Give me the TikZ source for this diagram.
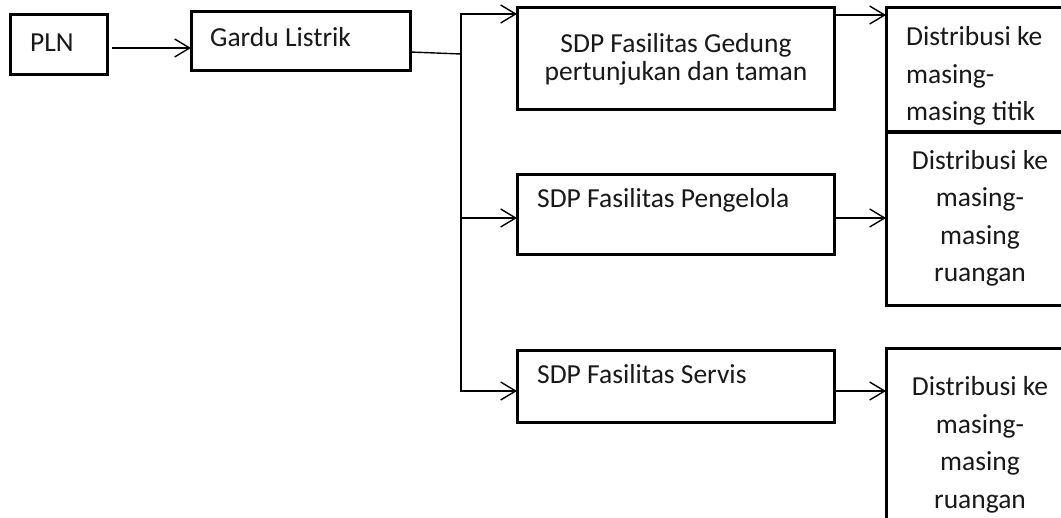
\documentclass[tikz,border=0pt]{standalone}
\usepackage{fontspec}
\setmainfont{Carlito}
\usetikzlibrary{arrows.meta}
\begin{document}
\begin{tikzpicture}[x=1pt,y=-1pt,
  box/.style={draw=black, line width=3pt, rectangle, inner sep=0pt, outer sep=0pt},
  conn/.style={draw=black, line width=1.4pt},
  arr/.style={conn, -{Straight Barb[length=15pt,width=18pt]}},
  txt/.style={font=\fontsize{27.5}{28}\selectfont, inner sep=0pt, text=black!90},
  dtxt/.style={font=\fontsize{27.5}{37.5}\selectfont, inner sep=0pt, text=black!90}]
\clip (0,0) rectangle (1061,518);
\fill[white] (0,0) rectangle (1061,518);
% boxes
\node[box, minimum width=97pt, minimum height=60pt] (pln) at (58.5,45) {};
\node[box, minimum width=219pt, minimum height=59pt] (gardu) at (300.5,41.5) {};
\node[box, minimum width=317pt, minimum height=102pt] (sdp1) at (675.5,59) {};
\node[box, minimum width=317pt, minimum height=80pt] (sdp2) at (675.5,215) {};
\node[box, minimum width=317pt, minimum height=72pt] (sdp3) at (675.5,387) {};
\node[box, minimum width=194pt, minimum height=124pt] (dist1) at (983,70) {};
\node[box, minimum width=194pt, minimum height=173pt] (dist2) at (983,219.5) {};
\node[box, minimum width=194pt, minimum height=211pt] (dist3) at (983,454.5) {};
% texts (base anchor = baseline of the last line)
\node[txt, anchor=base west] (tpln) at (30,52) {PLN};
\node[txt, anchor=base west] (tgardu) at (210,47) {Gardu Listrik};
\node[txt, anchor=base, align=center] (tsdp1) at (676,81) {SDP Fasilitas Gedung\\pertunjukan dan taman};
\node[txt, anchor=base west] (tsdp2) at (537,208) {SDP Fasilitas Pengelola};
\node[txt, anchor=base west] (tsdp3) at (537,384) {SDP Fasilitas Servis};
\node[dtxt, anchor=base west, align=left] (td1) at (906,121) {Distribusi ke\\masing-\\masing titik};
\node[dtxt, anchor=base, align=center] (td2) at (980,282) {Distribusi ke\\masing-\\masing\\ruangan};
\node[dtxt, anchor=base, align=center] (td3) at (980,508) {Distribusi ke\\masing-\\masing\\ruangan};
% connectors
\coordinate (bus) at (461,54);
\draw[arr, shorten <=5pt] (pln.east |- 0,48) -- (gardu.west |- 0,48);
\draw[conn] (gardu.east |- 0,52) -- (bus);
\draw[arr] (bus) |- (sdp1.west |- 0,14);
\draw[arr] (bus) |- (sdp2.west |- 0,218);
\draw[arr] (bus) |- (sdp3.west |- 0,391);
\draw[arr] (sdp1.east |- 0,15) -- (dist1.west |- 0,15);
\draw[arr] (sdp2.east |- 0,218) -- (dist2.west |- 0,218);
\draw[arr] (sdp3.east |- 0,391) -- (dist3.west |- 0,391);
\end{tikzpicture}
\end{document}
